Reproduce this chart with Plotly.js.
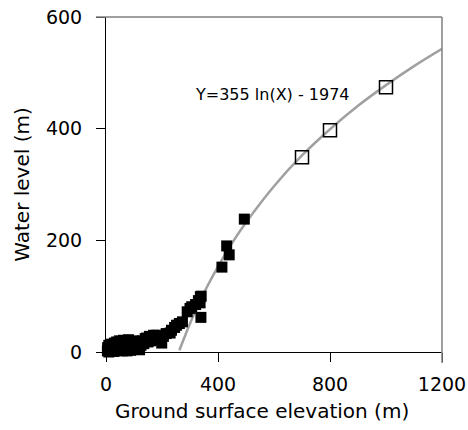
<!DOCTYPE html>
<html>
<head>
<meta charset="utf-8">
<script src="https://cdn.plot.ly/plotly-3.0.1.min.js"></script>
<style>html,body{margin:0;padding:0;background:#fff;}#chart{width:468px;height:430px;}</style>
</head>
<body>
<div id="chart"></div>
<script>
// Observed wells (filled squares)
const obsX = [5,6,8,10,10,12,15,18,20,22,25,28,30,32,35,38,40,42,45,48,50,52,55,58,60,62,65,68,70,72,75,78,80,82,85,88,90,95,98,100,105,110,114,118,120,125,130,135,140,145,150,155,160,170,181,190,199,205,215,229,234,245,252,262,273,290,300,306,320,330,336,337,339,340,414,431,440,494];
const obsY = [2,8,5,0,12,3,8,2,14,5,10,1,16,6,12,18,3,9,15,20,4,11,18,2,8,21,14,5,19,10,2,16,22,7,12,3,18,9,20,5,14,8,10,17,4,12,20,15,24,25,18,28,20,30,30,22,16,28,33,34,39,44,48,51,54,72,78,81,85,92,88,99,62,100,152,190,174,238];
// Projected points (open squares)
const projX = [700, 800, 1000];
const projY = [349, 397, 474];
// Fitted curve, points
const fitX = [262,280,300,350,400,450,500,600,700,800,900,1000,1100,1200];
const fitY = [3,26,51,106,153,195,232,297,352,399,441,478,512,543];
const xTicks = [0,400,800,1200];
const yTicks = [0,200,400,600];
const fitLabel = 'Y=355 ln(X) - 1974';
const xTitle = 'Ground surface elevation (m)';
const yTitle = 'Water level (m)';

const font = 'DejaVu Sans, Verdana, sans-serif';
const traces = [
  {x: fitX, y: fitY, type:'scatter', mode:'lines', line:{color:'#a0a0a0', width:2.5, shape:'spline'}, hoverinfo:'skip'},
  {x: obsX, y: obsY, type:'scatter', mode:'markers', marker:{symbol:'square', size:11, color:'#000'}, cliponaxis:false},
  {x: projX, y: projY, type:'scatter', mode:'markers', marker:{symbol:'square-open', size:13, color:'#000', line:{width:1.5, color:'#000'}}, cliponaxis:false}
];
const layout = {
  width:468, height:430,
  margin:{l:106, r:26, t:17, b:78},
  showlegend:false,
  paper_bgcolor:'#fff', plot_bgcolor:'#fff',
  font:{family:font, color:'#000', size:19},
  xaxis:{range:[0,1200], tickvals:xTicks, ticktext:xTicks.map(String), showgrid:false, zeroline:false,
    showline:true, linecolor:'#000', linewidth:1, ticks:'outside', ticklen:9, tickcolor:'#000',
    ticklabelstandoff:6, tickfont:{size:19, family:font}},
  yaxis:{range:[0,600], tickvals:yTicks, ticktext:yTicks.map(String), showgrid:false, zeroline:false,
    showline:true, linecolor:'#000', linewidth:1, ticks:'outside', ticklen:9, tickcolor:'#000',
    ticklabelstandoff:10, tickfont:{size:19, family:font},
    title:{text:yTitle, font:{size:20, family:font}, standoff:10}},
  shapes:[
    {type:'line', xref:'paper', yref:'paper', x0:-0.03, x1:1, y0:1, y1:1, line:{color:'#808080', width:1.5}},
    {type:'line', xref:'paper', yref:'paper', x0:1, x1:1, y0:1, y1:-0.033, line:{color:'#808080', width:1.5}}
  ],
  annotations:[
    {x:596, y:462, xref:'x', yref:'y', text:fitLabel, showarrow:false, font:{size:16, family:font, color:'#000'}},
    {x:0.464, y:-0.176, xref:'paper', yref:'paper', xanchor:'center', yanchor:'middle', text:xTitle, showarrow:false, font:{size:20, family:font, color:'#000'}}
  ]
};
Plotly.newPlot('chart', traces, layout, {displayModeBar:false, staticPlot:true});
</script>
</body>
</html>
